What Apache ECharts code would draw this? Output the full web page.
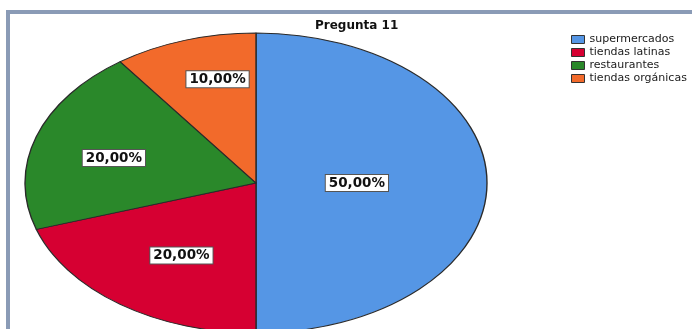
<!DOCTYPE html>
<html>
<head>
<meta charset="utf-8">
<title>Pregunta 11</title>
<script src="https://cdn.jsdelivr.net/npm/echarts@6.0.0/dist/echarts.min.js"></script>
<style>
  html, body { margin: 0; padding: 0; background: #fff; overflow: hidden; }
  #wrap { position: relative; width: 692px; height: 329px; overflow: hidden; }
  #pie, #overlay { position: absolute; left: 0; top: 0; width: 692px; height: 329px; }
  /* the pie is drawn as a circle and stretched horizontally into an ellipse */
  #pie { transform: scaleX(1.54); transform-origin: 256px 183px; }
</style>
</head>
<body>
<div id="wrap">
  <div id="pie"></div>
  <div id="overlay"></div>
</div>
<script>
// ---- data ----
const categories = ['supermercados', 'tiendas latinas', 'restaurantes', 'tiendas orgánicas'];
const percentages = [50, 20, 20, 10];
const chartTitle = 'Pregunta 11';

// ---- style / layout ----
const colors = ['#5596e5', '#d60032', '#2a882a', '#f26a2b'];
const CX = 256, CY = 183, R = 150, STRETCH = 1.54;
// how far out along each slice the value box sits (x share, y share of the ellipse radii)
const labelReach = [[0.42, 1], [0.528, 0.574], [0.622, 0.517], [0.518, 0.70]];

const sliceData = categories.map((name, i) => ({ name, value: percentages[i] }));
const fmtPct = v => v.toFixed(2).replace('.', ',') + '%';

// filled slices (stretched layer)
const pieChart = echarts.init(document.getElementById('pie'), null, { renderer: 'svg' });
pieChart.setOption({
  animation: false,
  color: colors,
  series: [{
    type: 'pie',
    center: [CX, CY],
    radius: R,
    startAngle: 90,
    clockwise: true,
    silent: true,
    label: { show: false },
    labelLine: { show: false },
    itemStyle: { borderColor: '#2a2a2a', borderWidth: 0.9 },
    data: sliceData
  }]
});

// title, legend, frame and value boxes (unstretched layer)
const overlay = echarts.init(document.getElementById('overlay'));
overlay.setOption({
  animation: false,
  graphic: [{
    type: 'rect',
    silent: true,
    shape: { x: 8, y: 12, width: 720, height: 360 },
    style: { fill: 'none', stroke: '#8a9bb6', lineWidth: 4 }
  }],
  title: {
    text: chartTitle,
    left: 315,
    top: 20,
    padding: 0,
    textStyle: { fontFamily: 'DejaVu Sans', fontWeight: 'bold', fontSize: 12, color: '#111' }
  },
  legend: {
    orient: 'vertical',
    left: 571,
    top: 34,
    padding: 0,
    itemWidth: 13,
    itemHeight: 8,
    itemGap: 2,
    icon: 'rect',
    selectedMode: false,
    textStyle: { fontFamily: 'DejaVu Sans', fontSize: 11, color: '#1a1a1a', lineHeight: 10 },
    data: categories.map((name, i) => ({
      name,
      itemStyle: { color: colors[i], borderColor: '#333', borderWidth: 1, opacity: 1 }
    }))
  },
  series: [{
    type: 'pie',
    center: [CX, CY],
    radius: R,
    startAngle: 90,
    clockwise: true,
    silent: true,
    itemStyle: { color: 'rgba(0,0,0,0)', borderWidth: 0 },
    label: {
      show: true,
      position: 'inside',
      formatter: p => fmtPct(p.value),
      fontFamily: 'DejaVu Sans',
      fontWeight: 'bold',
      fontSize: 13.5,
      lineHeight: 14,
      color: '#111',
      backgroundColor: '#fff',
      borderColor: '#555',
      borderWidth: 1,
      padding: [1, 3]
    },
    labelLine: { show: false },
    labelLayout: params => {
      const i = params.dataIndex;
      const r = params.labelRect;
      const ux = (r.x + r.width / 2 - CX) / (R / 2);
      const uy = (r.y + r.height / 2 - CY) / (R / 2);
      return {
        x: CX + ux * R * STRETCH * labelReach[i][0],
        y: CY + uy * R * labelReach[i][1]
      };
    },
    data: sliceData
  }]
});
</script>
</body>
</html>
